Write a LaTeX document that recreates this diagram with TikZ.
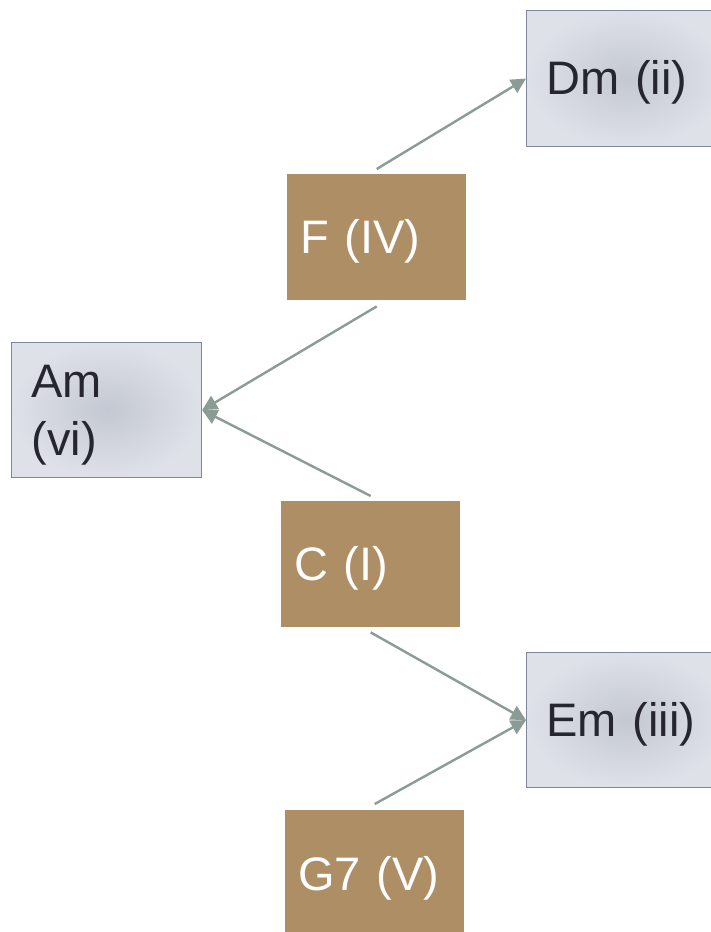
\documentclass[tikz,border=0pt]{standalone}
\usepackage{fontspec}
\setmainfont{Liberation Sans}
\usetikzlibrary{arrows.meta}
\definecolor{chordbrown}{RGB}{173,142,101}
\definecolor{linkgray}{RGB}{139,156,148}
\definecolor{minorline}{RGB}{125,136,158}
\definecolor{minorin}{RGB}{196,200,210}
\definecolor{minorout}{RGB}{222,225,232}
\definecolor{minortext}{RGB}{38,38,48}
\tikzset{
  chordtext/.style={inner ysep=0pt, align=left, anchor=north west,
    font=\fontsize{47}{58}\selectfont,
    execute at begin node={\rule{0pt}{42pt}}},
  major/.style={chordtext, rectangle, fill=chordbrown, text=white,
    inner xsep=13pt},
  minor/.style={chordtext, rectangle, draw=minorline, line width=1.2pt,
    shading=radial, inner color=minorin, outer color=minorout,
    text=minortext, inner xsep=20pt},
  link/.style={draw=linkgray, line width=2.4pt,
    -{Triangle[length=15pt,width=15pt]}}
}
\begin{document}
\begin{tikzpicture}[x=1pt,y=1pt]
  \clip (0,0) rectangle (711,-932);
  \fill[white] (0,0) rectangle (711,-932);

  % minor chords (gray)
  \node[minor, minimum width=200pt, minimum height=136pt, text width=160pt] (Dm) at (526,-10) {Dm (ii)};
  \node[minor, minimum width=190pt, minimum height=135pt, text width=150pt] (Am) at (11,-342) {Am\\(vi)};
  \node[minor, minimum width=200pt, minimum height=135pt, text width=160pt] (Em) at (526,-652) {Em (iii)};

  % major chords (brown)
  \node[major, minimum width=179pt, minimum height=126pt, text width=153pt] (F) at (287,-174) {F (IV)};
  \node[major, minimum width=179pt, minimum height=126pt, text width=153pt] (C) at (281,-501) {C (I)};
  \node[major, minimum width=179pt, minimum height=128pt, text width=153pt] (G) at (285,-810) {G7 (V)};

  % progressions
  \draw[link] ([yshift=5pt]F.north) -- (Dm.west);
  \draw[link] ([yshift=-6pt]F.south) -- (Am.east);
  \draw[link] ([yshift=5pt]C.north) -- (Am.east);
  \draw[link] ([yshift=-5pt]C.south) -- (Em.west);
  \draw[link] ([yshift=6pt]G.north) -- (Em.west);
\end{tikzpicture}
\end{document}
